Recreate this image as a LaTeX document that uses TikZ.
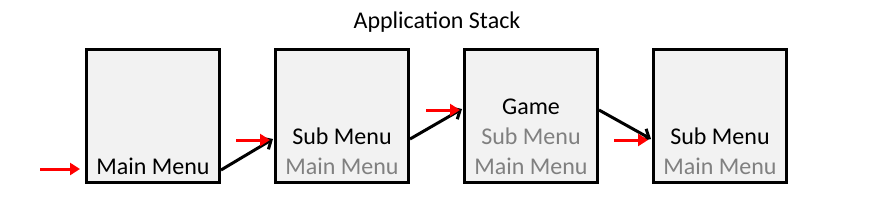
\documentclass[tikz,border=0pt]{standalone}
\usepackage{fontspec}
\setmainfont{Carlito}
\usetikzlibrary{arrows.meta}
\definecolor{boxfill}{HTML}{F2F2F2}
\definecolor{fadetext}{HTML}{808080}
\tikzset{
  stackbox/.style={draw=black, line width=3.5pt, fill=boxfill, minimum width=133pt, minimum height=133pt, inner sep=0pt},
  lbl/.style={font=\fontsize{24}{28}\selectfont, inner sep=0pt, anchor=center},
  fade/.style={lbl, text=fadetext},
  pusharrow/.style={draw=black, line width=3pt, -{Straight Barb[length=7pt,width=13pt,line width=3pt]}},
  redarrow/.style={draw=red, line width=3pt, -{Triangle[length=10pt,width=12pt]}}
}
\begin{document}
\begin{tikzpicture}[x=1pt,y=-1pt]
\useasboundingbox (0,0) rectangle (889,210);
\node[lbl] (title) at (437,22) {Application Stack};
\node[stackbox] (b1) at (153,116) {};
\node[stackbox] (b2) at (342,116) {};
\node[stackbox] (b3) at (531,116) {};
\node[stackbox] (b4) at (720,116) {};
% box 1
\node[lbl] (b1m) at (153,166) {Main Menu};
% box 2
\node[lbl] (b2s) at (342,136) {Sub Menu};
\node[fade] (b2m) at (342,166) {Main Menu};
% box 3
\node[lbl] (b3g) at (531,107) {Game};
\node[fade] (b3s) at (531,136) {Sub Menu};
\node[fade] (b3m) at (531,166) {Main Menu};
% box 4
\node[lbl] (b4s) at (720,136) {Sub Menu};
\node[fade] (b4m) at (720,166) {Main Menu};
% connector points
\coordinate (a1s) at (221,170);
\coordinate (a1e) at (273,139);
\coordinate (a2s) at (410,139);
\coordinate (a2e) at (462,109);
\coordinate (a3s) at (599,110);
\coordinate (a3e) at (651,139);
\draw[pusharrow] (a1s) -- (a1e);
\draw[pusharrow] (a2s) -- (a2e);
\draw[pusharrow] (a3s) -- (a3e);
% red arrows
\coordinate (r1s) at (40,169);
\coordinate (r1e) at (80,169);
\coordinate (r2s) at (236,140);
\coordinate (r2e) at (270,140);
\coordinate (r3s) at (426,110);
\coordinate (r3e) at (460,110);
\coordinate (r4s) at (614,140);
\coordinate (r4e) at (648,140);
\draw[redarrow] (r1s) -- (r1e);
\draw[redarrow] (r2s) -- (r2e);
\draw[redarrow] (r3s) -- (r3e);
\draw[redarrow] (r4s) -- (r4e);
\end{tikzpicture}
\end{document}
